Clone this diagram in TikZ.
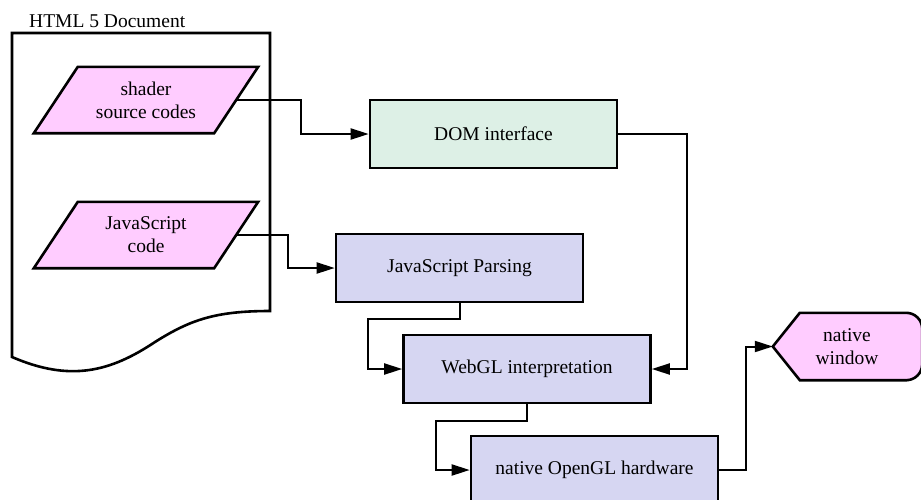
\documentclass[tikz,border=0pt]{standalone}
\usepackage{fontspec}
\setmainfont{Liberation Serif}
\usetikzlibrary{arrows.meta, positioning}
\definecolor{inpink}{HTML}{FFCCFF}
\definecolor{domgreen}{HTML}{DDF0E6}
\definecolor{proclav}{HTML}{D6D6F2}
\tikzstyle{io} = [rectangle, minimum width=180pt, minimum height=66pt, inner sep=0pt]
\tikzstyle{ioshape} = [draw, line width=2.6pt, fill=inpink, line join=miter]
\tikzstyle{proc} = [rectangle, draw, line width=2.6pt, fill=proclav, minimum width=247pt, minimum height=68pt, text centered]
\tikzstyle{line} = [draw, line width=2pt, -{Triangle[length=18pt, width=11pt]}]

\begin{document}
\begin{tikzpicture}[x=1pt, y=-1pt, font=\fontsize{19.5}{23}\selectfont]
    \useasboundingbox (0,0) rectangle (921,499);

    % the html page
    \draw[line width=2.6pt, fill=white] (12,33) -- (270,33) -- (270,311)
        .. controls (215,311) and (190,320) .. (155,342)
        .. controls (110,372) and (70,382) .. (12,357) -- cycle;
    \node[anchor=base west, inner sep=0pt] (doclabel) at (29,27) {HTML 5 Document};

    % input parallelograms
    \node[io] (shader) at (146,100) {};
    \node[io] (jscode) at (146,235) {};
    \foreach \n in {shader, jscode}
        \draw[ioshape] ([xshift=22pt]\n.north west) -- ([xshift=22pt]\n.north east)
            -- ([xshift=-22pt]\n.south east) -- ([xshift=-22pt]\n.south west) -- cycle;
    \node[align=center] at (shader) {shader\\source codes};
    \node[align=center] at (jscode) {JavaScript\\code};

    \node[proc, fill=domgreen] (dom) at (493.5,134) {DOM interface};
    \node[proc] (jsparse) at (459.5,268) {JavaScript Parsing};
    \node[proc] (webgl) at (527,369) {WebGL interpretation};
    \node[proc] (opengl) at (594.5,470) {native OpenGL hardware};

    % display shape for the window
    \node[minimum width=148pt, minimum height=67pt, inner sep=0pt] (win) at (847,346.5) {};
    \draw[ioshape] (win.west) -- ([xshift=27pt]win.north west)
        -- ([xshift=-30pt]win.north east) [rounded corners=16pt] -- ([xshift=1pt]win.north east)
        -- ([xshift=1pt]win.south east) -- ([xshift=-30pt]win.south east) [sharp corners]
        -- ([xshift=27pt]win.south west) -- cycle;
    \node[align=center] at (win) {native\\window};

    \path[line] (shader.east) -- ++(65,0) |- (dom.west);
    \path[line] (jscode.east) -- ++(52,0) |- (jsparse.west);
    \path[line] (dom.east) -- ++(69,0) |- (webgl.east);
    \path[line] (jsparse.south) |- ++(-92,16) |- (webgl.west);
    \path[line] (webgl.south) |- ++(-91,17) |- (opengl.west);
    \path[line] (opengl.east) -- ++(27,0) |- (win.west);
\end{tikzpicture}
\end{document}
